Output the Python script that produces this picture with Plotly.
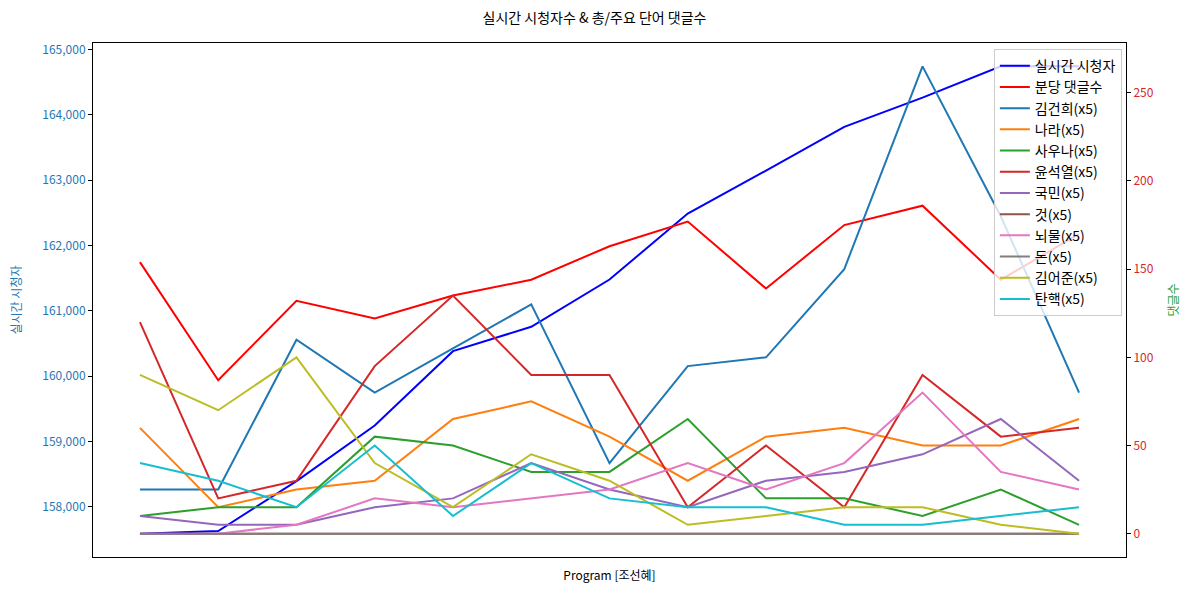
import plotly.graph_objects as go

x_idx = list(range(13))
viewers = [157587, 157627, 158392, 159244, 160382, 160755, 161479, 162489,
           163148, 163817, 164265, 164744, 164744]
comments = [154, 87, 132, 122, 135, 144, 163, 177, 139, 175, 186, 144, 170]

words = ["김건희", "나라", "사우나", "윤석열", "국민", "것", "뇌물", "돈", "김어준", "탄핵"]
word_vals = {
    "김건희": [25, 25, 110, 80, 105, 130, 40, 95, 100, 150, 265, 180, 80],
    "나라":   [60, 15, 25, 30, 65, 75, 55, 30, 55, 60, 50, 50, 65],
    "사우나": [10, 15, 15, 55, 50, 35, 35, 65, 20, 20, 10, 25, 5],
    "윤석열": [120, 20, 30, 95, 135, 90, 90, 15, 50, 15, 90, 55, 60],
    "국민":   [10, 5, 5, 15, 20, 40, 25, 15, 30, 35, 45, 65, 30],
    "것":     [0, 0, 0, 0, 0, 0, 0, 0, 0, 0, 0, 0, 0],
    "뇌물":   [0, 0, 5, 20, 15, 20, 25, 40, 25, 40, 80, 35, 25],
    "돈":     [0, 0, 0, 0, 0, 0, 0, 0, 0, 0, 0, 0, 0],
    "김어준": [90, 70, 100, 40, 15, 45, 30, 5, 10, 15, 15, 5, 0],
    "탄핵":   [40, 30, 15, 50, 10, 40, 20, 15, 15, 5, 5, 10, 15],
}
tab10 = ["#1f77b4", "#ff7f0e", "#2ca02c", "#d62728", "#9467bd",
         "#8c564b", "#e377c2", "#7f7f7f", "#bcbd22", "#17becf"]

FONT = "Noto Sans CJK KR, Noto Sans, DejaVu Sans"

fig = go.Figure()
fig.add_trace(go.Scatter(x=x_idx, y=viewers, mode="lines", name="실시간 시청자",
                         line=dict(color="#0000ff", width=2), yaxis="y"))
fig.add_trace(go.Scatter(x=x_idx, y=comments, mode="lines", name="분당 댓글수",
                         line=dict(color="#ff0000", width=2), yaxis="y2"))
for w, c in zip(words, tab10):
    fig.add_trace(go.Scatter(x=x_idx, y=word_vals[w], mode="lines", name=f"{w}(x5)",
                             line=dict(color=c, width=2), yaxis="y2"))

def padded(lo, hi, frac=0.05):
    s = hi - lo
    return [lo - s * frac, hi + s * frac]

all_right = comments + [v for w in words for v in word_vals[w]]

fig.update_layout(
    width=1189, height=592,
    margin=dict(l=93, r=63, t=43, b=35),
    paper_bgcolor="white", plot_bgcolor="white",
    font=dict(family=FONT, size=12, color="black"),
    title=dict(text="실시간 시청자수 & 총/주요 단어 댓글수", x=0.5, xanchor="center",
               y=1 - 18 / 592, yanchor="middle", font=dict(size=14)),
    xaxis=dict(range=padded(0, 12), showticklabels=False, ticks="", showgrid=False,
               zeroline=False, showline=True, linecolor="black", linewidth=1, mirror=True,
               title=dict(text="Program [조선혜]", standoff=14, font=dict(size=12))),
    yaxis=dict(range=padded(min(viewers), max(viewers)), dtick=1000, tickformat=",",
               showgrid=False, zeroline=False, showline=True, linecolor="black",
               linewidth=1, ticks="outside", ticklen=4, tickcolor="black",
               tickfont=dict(color="#1f77b4", size=12),
               title=dict(text="실시간 시청자", font=dict(color="#1f77b4", size=12), standoff=18)),
    yaxis2=dict(range=padded(0, max(all_right)), dtick=50, overlaying="y", side="right",
                showgrid=False, zeroline=False, showline=True, linecolor="black",
                linewidth=1, ticks="outside", ticklen=4, tickcolor="black",
                tickfont=dict(color="#d62728", size=12),
                title=dict(text="댓글수", font=dict(color="#2ca02c", size=12), standoff=16)),
    legend=dict(x=0.996, xanchor="right", y=0.988, yanchor="top",
                bgcolor="rgba(255,255,255,0.8)", bordercolor="#cccccc", borderwidth=1,
                font=dict(size=14), itemwidth=30, tracegroupgap=0),
    showlegend=True,
)

fig.write_html("out.html")
